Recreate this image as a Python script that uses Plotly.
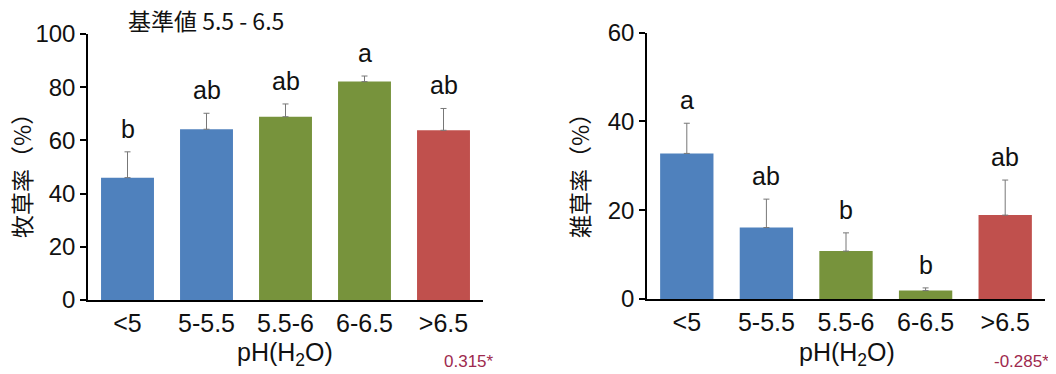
import plotly.graph_objects as go

categories = ["<5", "5-5.5", "5.5-6", "6-6.5", ">6.5"]
colors = ["#4F81BD", "#4F81BD", "#77933C", "#77933C", "#C0504D"]

pasture_vals = [46.0, 64.2, 68.9, 82.1, 63.8]
pasture_err = [9.7, 6.0, 4.8, 2.1, 8.2]
pasture_letters = ["b", "ab", "ab", "a", "ab"]

weed_vals = [32.8, 16.1, 10.8, 1.9, 18.9]
weed_err = [6.8, 6.4, 4.1, 0.6, 7.9]
weed_letters = ["a", "ab", "b", "b", "ab"]

title_text = "基準値 5.5 - 6.5"
y_title_left = "牧草率（%）"
y_title_right = "雑草率（%）"
x_title = "pH(H<sub>2</sub>O)"
corr_left = "0.315*"
corr_right = "-0.285*"

# page body has an 8px margin: the figure is drawn at (8, 8)
OX, OY = 8, 8
W, H = 1048, 366
FONT = "Liberation Sans, Arial, sans-serif"
CJK = "Noto Sans CJK JP, sans-serif"
INK = "#111111"


def fx(px):
    return (px - OX) / W


def fy(py):
    return (H - (py - OY)) / H


fig = go.Figure()


def add_panel(vals, errs, xa, ya):
    fig.add_trace(go.Bar(
        x=categories, y=vals, marker=dict(color=colors, line=dict(width=0)),
        width=0.67, xaxis=xa, yaxis=ya, showlegend=False,
        error_y=dict(type="data", symmetric=False, array=errs,
                     arrayminus=[0] * len(errs), color="#777777",
                     thickness=1, width=3),
    ))


add_panel(pasture_vals, pasture_err, "x", "y")
add_panel(weed_vals, weed_err, "x2", "y2")

x_common = dict(showline=True, linecolor="black", linewidth=1.5,
                showgrid=False, zeroline=False, automargin=False, ticks="",
                range=[-0.5, 4.5], tickfont=dict(family=FONT, size=25, color=INK))
y_common = dict(showline=True, linecolor="black", linewidth=1.5,
                showgrid=False, zeroline=False, automargin=False,
                ticks="outside", ticklen=6, tickwidth=1.5, tickcolor="black",
                dtick=20, tickfont=dict(family=FONT, size=24, color=INK))

fig.update_layout(
    template="none",
    width=W, height=H,
    margin=dict(l=0, r=0, t=0, b=0, autoexpand=False),
    plot_bgcolor="white", paper_bgcolor="white",
    xaxis=dict(domain=[fx(88), fx(483)], anchor="y", **x_common),
    yaxis=dict(domain=[fy(300), fy(34)], anchor="x", range=[0, 100], **y_common),
    xaxis2=dict(domain=[fx(647), fx(1045)], anchor="y2", **x_common),
    yaxis2=dict(domain=[fy(299), fy(32.7)], anchor="x2", range=[0, 60], **y_common),
)

annotations = []
for i, c in enumerate(categories):
    annotations.append(dict(x=c, y=pasture_vals[i] + pasture_err[i], xref="x", yref="y",
                            text=pasture_letters[i], showarrow=False, xanchor="center",
                            yanchor="bottom", yshift=7,
                            font=dict(family=FONT, size=25, color=INK)))
    annotations.append(dict(x=c, y=weed_vals[i] + weed_err[i], xref="x2", yref="y2",
                            text=weed_letters[i], showarrow=False, xanchor="center",
                            yanchor="bottom", yshift=7,
                            font=dict(family=FONT, size=25, color=INK)))


def paper_text(px, py, text, font, angle=0):
    return dict(x=fx(px), y=fy(py), xref="paper", yref="paper", showarrow=False,
                xanchor="center", yanchor="middle", text=text, font=font,
                textangle=angle)


annotations += [
    paper_text(206, 20, title_text, dict(family=CJK, size=23, color=INK)),
    paper_text(21, 170, y_title_left, dict(family=CJK, size=23, color=INK), -90),
    paper_text(579, 170, y_title_right, dict(family=CJK, size=23, color=INK), -90),
    paper_text(285, 354, x_title, dict(family=FONT, size=25, color=INK)),
    paper_text(847, 354, x_title, dict(family=FONT, size=25, color=INK)),
    paper_text(469, 361, corr_left, dict(family=FONT, size=17, color="#9E2A4E")),
    paper_text(1021, 361, corr_right, dict(family=FONT, size=17, color="#9E2A4E")),
]
fig.update_layout(annotations=annotations)

fig.write_html("out.html")
